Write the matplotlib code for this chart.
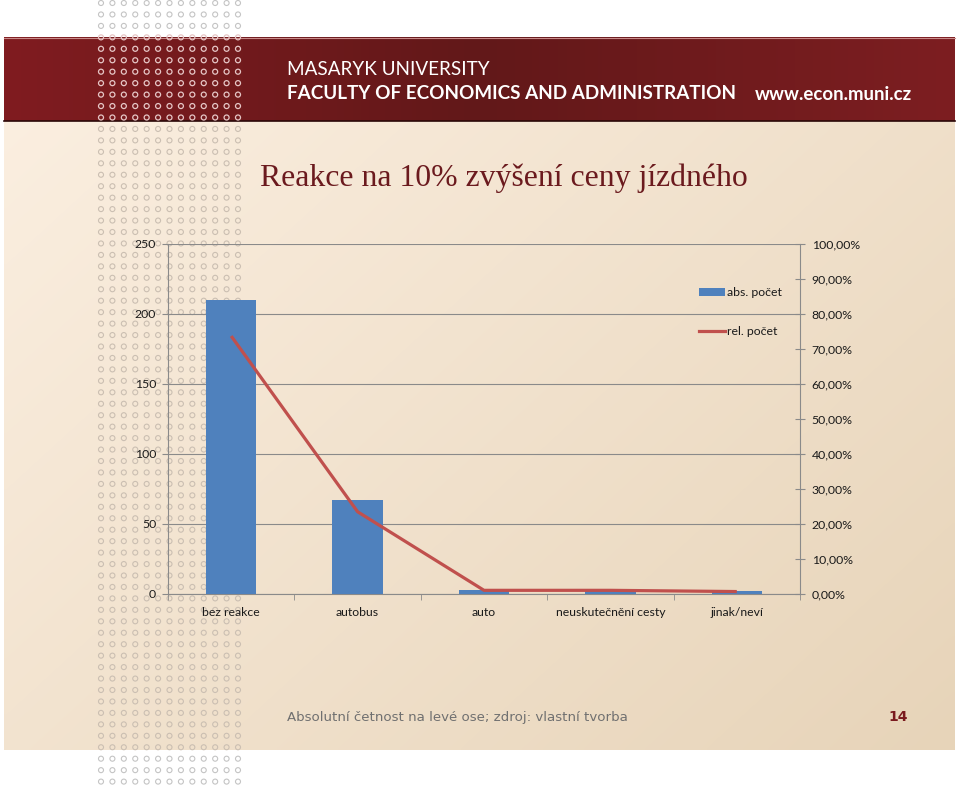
import numpy as np
import matplotlib
matplotlib.use("Agg")
import matplotlib.pyplot as plt
from matplotlib.lines import Line2D
from matplotlib.patches import Patch
from matplotlib.ticker import FuncFormatter

# ---- data ----
categories = ["bez reakce", "autobus", "auto", "neuskutečnění cesty", "jinak/neví"]
abs_pocet = [210, 67, 3, 3, 2]
rel_pocet = [73.7, 23.5, 1.05, 1.05, 0.7]
left_ticks = [0, 50, 100, 150, 200, 250]
right_ticks = [0, 10, 20, 30, 40, 50, 60, 70, 80, 90, 100]

title = "Reakce na 10% zvýšení ceny jízdného"
caption = "Absolutní četnost na levé ose; zdroj: vlastní tvorba"
page_no = "14"

W, H = 960, 787
fig = plt.figure(figsize=(W / 100, H / 100), dpi=100)
fig.patch.set_facecolor("white")

# ---- background (slide) ----
bg = fig.add_axes([0, 0, 1, 1], zorder=0)
bg.set_xlim(0, W)
bg.set_ylim(H, 0)
bg.axis("off")

sx0, sx1, sy0, sy1 = 4, 955, 37, 750
gx = np.linspace(0, 1, 200)[None, :]
gy = np.linspace(0, 1, 200)[:, None]
t = 0.55 * gx + 0.45 * gy
c1 = np.array([252, 240, 226]) / 255
c2 = np.array([231, 212, 185]) / 255
grad = c1[None, None, :] * (1 - t[..., None]) + c2[None, None, :] * t[..., None]
bg.imshow(grad, extent=[sx0, sx1, sy1, sy0], aspect="auto", zorder=1, interpolation="bilinear")

# header band
hx = np.linspace(0, 1, 300)
hl = np.array([128, 28, 32]) / 255
hm = np.array([98, 24, 25]) / 255
hr = np.array([125, 30, 33]) / 255
w = np.abs(hx - 0.5) * 2
hcol = hm[None, :] * (1 - w[:, None]) + np.where(hx[:, None] < 0.5, hl[None, :], hr[None, :]) * w[:, None]
hgrad = hcol[None, :, :]
bg.imshow(hgrad, extent=[sx0, sx1, 121, 37], aspect="auto", zorder=2, interpolation="bilinear")
bg.plot([sx0, sx1], [121, 121], color="#2a0808", lw=1.2, zorder=3)
bg.plot([sx0, sx1], [37.5, 37.5], color="#c98a8a", lw=0.8, zorder=3)

# decorative dot pattern
cols = np.linspace(101, 238, 13)
rows = np.arange(3, 787, 11.45)
XX, YY = np.meshgrid(cols, rows)
XX = XX.ravel(); YY = YY.ravel()
in_head = (YY > 37) & (YY < 121)
in_slide = (YY >= 121) & (YY < 750)
outside = ~(in_head | in_slide)
bg.scatter(XX[outside], YY[outside], s=13, facecolors="none", edgecolors="#c4c4c4", linewidths=0.8, zorder=4)
bg.scatter(XX[in_slide], YY[in_slide], s=13, facecolors="none", edgecolors="#cbbfb2", linewidths=0.8, zorder=4)
bg.scatter(XX[in_head], YY[in_head], s=13, facecolors="none", edgecolors="#e6c6c6", linewidths=0.9, zorder=4)

# header texts
bg.text(287, 75, "MASARYK UNIVERSITY", color="white", fontsize=13.6, family="Lato",
        va="baseline", ha="left", zorder=5)
bg.text(287, 99, "FACULTY OF ECONOMICS AND ADMINISTRATION", color="white", fontsize=13.6,
        family="Lato", fontweight="bold", va="baseline", ha="left", zorder=5)
bg.text(755, 100, "www.econ.muni.cz", color="white", fontsize=13.4, family="Lato",
        fontweight="bold", va="baseline", ha="left", zorder=5)

# title
bg.text(260, 186, title, color="#6b1a1e", fontsize=22.9, family="Liberation Serif",
        va="baseline", ha="left", zorder=5)

# caption and page number
bg.text(287, 721, caption, color="#707070", fontsize=9.6, family="DejaVu Sans",
        va="baseline", ha="left", zorder=5)
bg.text(908, 721, page_no, color="#7a1a1e", fontsize=10, family="DejaVu Sans",
        fontweight="bold", va="baseline", ha="right", zorder=5)

# ---- chart ----
L, R, T, B = 168, 800, 244, 594
ax = fig.add_axes([L / W, (H - B) / H, (R - L) / W, (B - T) / H], zorder=2)
ax.patch.set_alpha(0)
x = np.arange(len(categories))
axis_col = "#8a8a8a"
txt_col = "#1a1a1a"
fs = 8.8
fam = "Lato"

ax.bar(x, abs_pocet, width=0.4, color="#4f81bd", zorder=3)
ax.set_xlim(-0.5, len(categories) - 0.5)
ax.set_ylim(0, 250)
ax.set_yticks(left_ticks)
ax.yaxis.grid(True, color=axis_col, lw=0.8)
ax.set_axisbelow(True)
ax.set_xticks(x)
ax.set_xticklabels(categories)
ax.set_xticks(np.arange(-0.5, len(categories), 1.0), minor=True)
ax.tick_params(axis="x", which="major", length=0, pad=9.5, labelsize=fs, labelcolor=txt_col)
ax.tick_params(axis="x", which="minor", length=4, direction="out", color=axis_col)
ax.tick_params(axis="y", length=4, direction="out", color=axis_col, pad=4.5, labelsize=fs, labelcolor=txt_col)
for lab in ax.get_xticklabels() + ax.get_yticklabels():
    lab.set_family(fam)
for s in ["top", "right"]:
    ax.spines[s].set_visible(False)
for s in ["left", "bottom"]:
    ax.spines[s].set_color(axis_col)
    ax.spines[s].set_linewidth(0.8)

ax2 = ax.twinx()
ax2.set_ylim(0, 100)
ax2.set_yticks(right_ticks)
ax2.yaxis.set_major_formatter(FuncFormatter(lambda v, p: f"{v:.2f}".replace(".", ",") + "%"))
ax2.plot(x, rel_pocet, color="#c0504d", lw=2.3, zorder=4, solid_capstyle="butt")
ax2.tick_params(axis="y", length=7, direction="inout", color=axis_col, pad=5, labelsize=fs, labelcolor=txt_col)
for lab in ax2.get_yticklabels():
    lab.set_family(fam)
for s in ["top", "left", "bottom"]:
    ax2.spines[s].set_visible(False)
ax2.spines["right"].set_color(axis_col)
ax2.spines["right"].set_linewidth(0.8)

handles = [Patch(facecolor="#4f81bd", edgecolor="none"),
           Line2D([0], [0], color="#c0504d", lw=2.3)]
leg = ax2.legend(handles, ["abs. počet", "rel. počet"], loc="upper left",
                 bbox_to_anchor=((699 - L) / (R - L), (B - 287) / (B - T)),
                 frameon=False, borderpad=0, borderaxespad=0, handlelength=2.1,
                 handleheight=0.6, handletextpad=0.2, labelspacing=2.3,
                 prop={"family": fam, "size": fs})
for tx in leg.get_texts():
    tx.set_color(txt_col)

fig.savefig("out.png", dpi=100, facecolor=fig.get_facecolor())
